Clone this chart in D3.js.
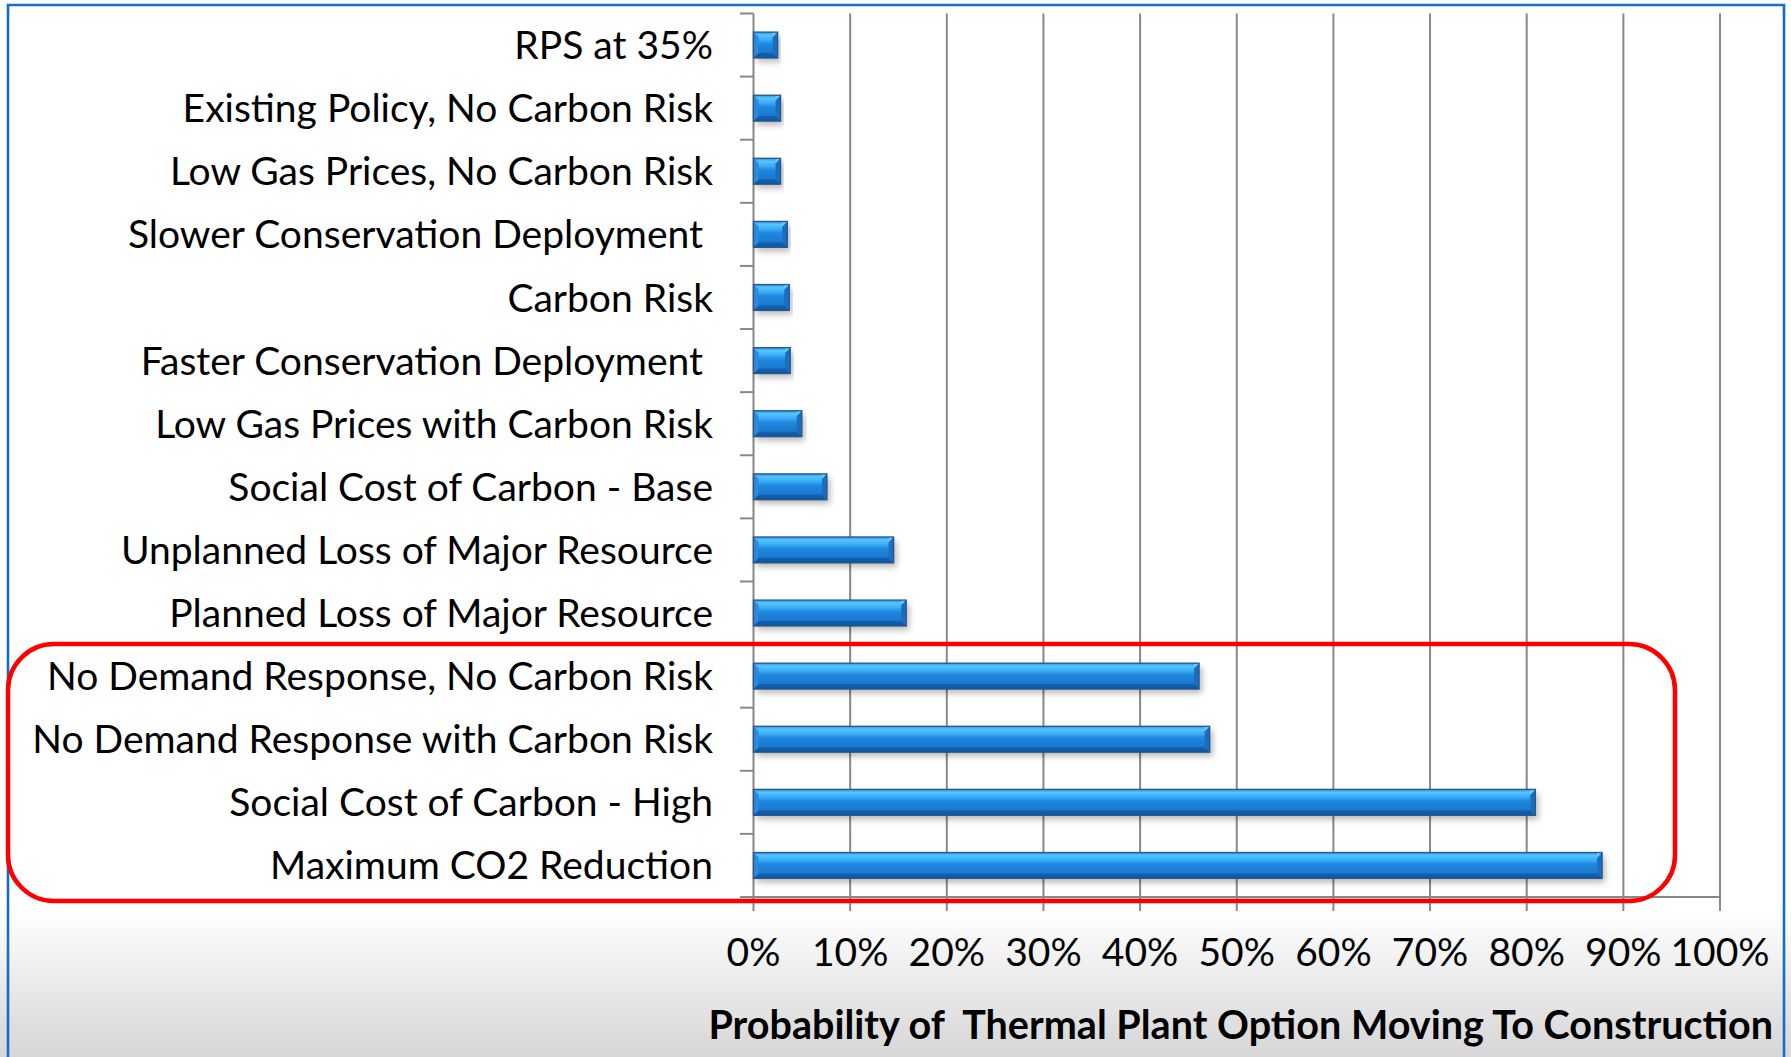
<!DOCTYPE html>
<html><head><meta charset="utf-8">
<script src="https://cdn.jsdelivr.net/npm/d3@7"></script>
<style>html,body{margin:0;padding:0;background:#fff;}svg{display:block;}text{white-space:pre;}</style>
</head><body>
<script>
const categories = [
  "RPS at 35%",
  "Existing Policy, No Carbon Risk",
  "Low Gas Prices, No Carbon Risk",
  "Slower Conservation Deployment ",
  "Carbon Risk",
  "Faster Conservation Deployment ",
  "Low Gas Prices with Carbon Risk",
  "Social Cost of Carbon - Base",
  "Unplanned Loss of Major Resource",
  "Planned Loss of Major Resource",
  "No Demand Response, No Carbon Risk",
  "No Demand Response with Carbon Risk",
  "Social Cost of Carbon - High",
  "Maximum CO2 Reduction"
];
const values = [0.025, 0.028, 0.028, 0.035, 0.037, 0.038, 0.050, 0.076, 0.145, 0.158, 0.461, 0.472, 0.809, 0.878];
const tickValues = [0,0.1,0.2,0.3,0.4,0.5,0.6,0.7,0.8,0.9,1.0];
const highlighted = ["No Demand Response, No Carbon Risk","Maximum CO2 Reduction"];
const axisTitle = "Probability of  Thermal Plant Option Moving To Construction";

const W = 1791, H = 1057;
const FONT = "Lato, 'Open Sans', sans-serif";
const svg = d3.select("body").append("svg").attr("width", W).attr("height", H);
const defs = svg.append("defs");

const bg = defs.append("linearGradient").attr("id","bg").attr("x1",0).attr("y1",0).attr("x2",0).attr("y2",1);
bg.append("stop").attr("offset","0").attr("stop-color","#ffffff");
bg.append("stop").attr("offset","0.86").attr("stop-color","#ffffff");
bg.append("stop").attr("offset","1").attr("stop-color","#d6d6d6");

const bar = defs.append("linearGradient").attr("id","barg").attr("x1",0).attr("y1",0).attr("x2",0).attr("y2",1);
[[0,"#2f92e4"],[0.12,"#55c6ff"],[0.3,"#3aaaf6"],[0.45,"#2089df"],[0.85,"#1a74cc"],[1,"#0f5cab"]].forEach(([o,c])=>bar.append("stop").attr("offset",o).attr("stop-color",c));

const sh = defs.append("filter").attr("id","shadow").attr("x","-5%").attr("y","-40%").attr("width","115%").attr("height","200%");
sh.append("feDropShadow").attr("dx",3).attr("dy",4).attr("stdDeviation",3).attr("flood-color","#000").attr("flood-opacity",0.28);

svg.append("rect").attr("x",0).attr("y",0).attr("width",W).attr("height",H).attr("fill","url(#bg)");
// outer blue frame
svg.append("path").attr("d",`M8,${H+5} L8,5 L1784,5 L1784,${H+5}`).attr("fill","none").attr("stroke","#1170c4").attr("stroke-width",2.6);

const x = d3.scaleLinear().domain([0,1]).range([753.5,1720]);
const y = d3.scaleBand().domain(categories).range([13.5,897]).paddingInner(0.59).paddingOuter(0.295);
const step = y.step();
const top0 = y.range()[0], bot0 = y.range()[1];

const grid = svg.append("g").attr("stroke","#888888").attr("stroke-width",2);
grid.selectAll("line.g").data(tickValues).join("line")
  .attr("x1",d=>x(d)).attr("x2",d=>x(d)).attr("y1",top0).attr("y2",bot0+14);
grid.append("line").attr("x1",740).attr("x2",x(1)).attr("y1",bot0).attr("y2",bot0);
grid.selectAll("line.yt").data(d3.range(categories.length+1)).join("line")
  .attr("x1",740).attr("x2",x(0)).attr("y1",i=>top0+i*step).attr("y2",i=>top0+i*step);

// bars
const bars = svg.append("g");
categories.forEach((c,i)=>{
  const x0 = x(0), x1 = x(values[i]);
  const y0 = y(c), y1 = y(c)+y.bandwidth();
  const b = Math.min(5, (x1-x0)/3);
  const g = bars.append("g");
  g.append("rect").attr("x",x0).attr("y",y0).attr("width",x1-x0).attr("height",y1-y0)
    .attr("fill","url(#barg)").attr("filter","url(#shadow)");
  g.append("polygon").attr("points",`${x0},${y1} ${x1},${y1} ${x1-b},${y1-b} ${x0+b},${y1-b}`).attr("fill","#0c5299").attr("opacity",0.6);
  g.append("polygon").attr("points",`${x1},${y0} ${x1},${y1} ${x1-b},${y1-b} ${x1-b},${y0+b}`).attr("fill","#1b6dbf");
  g.append("polygon").attr("points",`${x1-b},${y0+b} ${x1},${y0} ${x1-b},${y0}`).attr("fill","#6fd0ff").attr("opacity",0.8);
  g.append("polygon").attr("points",`${x0},${y0} ${x0},${y1} ${x0+b},${y1-b} ${x0+b},${y0+b}`).attr("fill","#2a8ade");
  g.append("rect").attr("x",x0).attr("y",y0).attr("width",x1-x0).attr("height",y1-y0)
    .attr("fill","none").attr("stroke","#2a5688").attr("stroke-width",1.3);
});

// category labels
const labels = svg.append("g").attr("font-family",FONT).attr("fill","#000").attr("text-anchor","end");
let fs = 40;
const probe = labels.append("text").attr("font-size",fs).text("No Demand Response with Carbon Risk");
const w0 = probe.node().getComputedTextLength();
probe.remove();
const targetW = 681;
const scaleX = targetW / w0;
const capFs = 39;
labels.selectAll("text").data(categories).join("text")
  .attr("font-size",capFs)
  .attr("transform",d=>`translate(713,${y(d)+y.bandwidth()/2 + 0.36*capFs}) scale(${(fs/capFs)*scaleX},1)`)
  .attr("xml:space","preserve")
  .text(d=>d);

// tick labels
const tl = svg.append("g").attr("font-family",FONT).attr("fill","#000").attr("text-anchor","middle");
tl.selectAll("text").data(tickValues).join("text")
  .attr("font-size",capFs)
  .attr("transform",d=>`translate(${x(d)},${951.5+0.36*capFs}) scale(${(fs/capFs)*scaleX},1)`)
  .text(d=>d3.format(".0%")(d));

// axis title
const tt = svg.append("text").attr("font-family",FONT).attr("font-weight","bold").attr("font-size",40)
  .attr("xml:space","preserve").attr("text-anchor","end").text(axisTitle);
const tw = tt.node().getComputedTextLength();
tt.attr("transform",`translate(1773,${1025+0.36*40}) scale(${1065/tw},1)`);

// red highlight box around the last four categories
const ri0 = categories.indexOf(highlighted[0]);
const rTop = top0 + ri0*step - 0.5;
svg.append("rect").attr("x",8).attr("y",rTop).attr("width",1667).attr("height",(bot0+4)-rTop)
  .attr("rx",46).attr("ry",46).attr("fill","none").attr("stroke","#ff0000").attr("stroke-width",4.5);
</script>
</body></html>
